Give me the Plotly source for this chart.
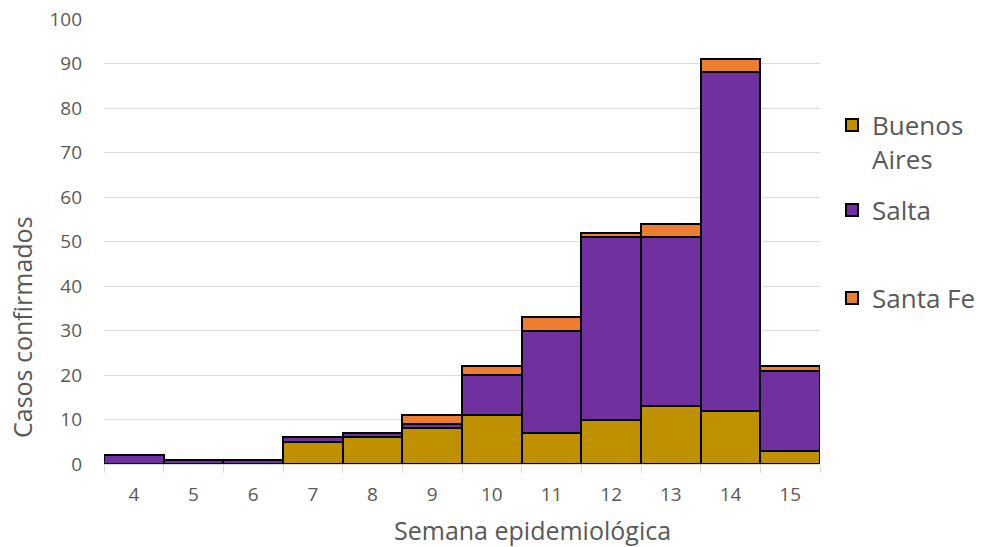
import plotly.graph_objects as go

weeks = ["4", "5", "6", "7", "8", "9", "10", "11", "12", "13", "14", "15"]
buenos_aires = [0, 0, 0, 5, 6, 8, 11, 7, 10, 13, 12, 3]
salta = [2, 1, 1, 1, 1, 1, 9, 23, 41, 38, 76, 18]
santa_fe = [0, 0, 0, 0, 0, 2, 2, 3, 1, 3, 3, 1]

font_family = "Open Sans, Liberation Sans, sans-serif"
grey = "#595959"

L, R, T, B = 104, 161, 19, 83
W, H = 981, 547
pw, ph = W - L - R, H - T - B


def px(x):
    return (x - L) / pw


def py(y):
    return (H - B - y) / ph


fig = go.Figure()
fig.add_trace(go.Bar(x=weeks, y=buenos_aires, name="Buenos<br>Aires",
                     marker=dict(color="#BF9000", line=dict(color="black", width=2)),
                     legend="legend"))
fig.add_trace(go.Bar(x=weeks, y=salta, name="Salta",
                     marker=dict(color="#7030A0", line=dict(color="black", width=2)),
                     legend="legend2"))
fig.add_trace(go.Bar(x=weeks, y=santa_fe, name="Santa Fe",
                     marker=dict(color="#ED7D31", line=dict(color="black", width=2)),
                     legend="legend3"))

leg_common = dict(font=dict(family=font_family, size=26, color=grey),
                  bgcolor="rgba(0,0,0,0)", xanchor="left", yanchor="middle",
                  itemwidth=30)
fig.update_layout(
    showlegend=True,
    barmode="stack",
    bargap=0,
    width=W, height=H,
    margin=dict(l=L, r=R, t=T, b=B, autoexpand=False),
    plot_bgcolor="white", paper_bgcolor="white",
    font=dict(family=font_family, color=grey),
    legend=dict(x=px(832), y=py(142), valign="top", **leg_common),
    legend2=dict(x=px(832), y=py(210), **leg_common),
    legend3=dict(x=px(832), y=py(298), **leg_common),
    xaxis=dict(
        tickfont=dict(size=19, color=grey),
        showline=True, linecolor="#D9D9D9", linewidth=1,
        ticks="outside", tickson="boundaries", ticklen=8, tickcolor="#D9D9D9",
        ticklabelstandoff=13,
        showgrid=False, automargin=False,
    ),
    yaxis=dict(
        tickfont=dict(size=19, color=grey),
        range=[0, 100], dtick=10,
        showgrid=True, gridcolor="#D9D9D9", gridwidth=1,
        zeroline=False, showline=False, ticks="",
        ticklabelstandoff=21, automargin=False,
    ),
    annotations=[
        dict(text="Semana epidemiológica", xref="paper", yref="paper",
             x=px(532), y=py(530), xanchor="center", yanchor="middle",
             showarrow=False, font=dict(family=font_family, size=25, color=grey)),
        dict(text="Casos confirmados", xref="paper", yref="paper",
             x=px(22), y=py(327), xanchor="center", yanchor="middle", textangle=-90,
             showarrow=False, font=dict(family=font_family, size=25, color=grey)),
    ],
)

fig.write_html("out.html")
